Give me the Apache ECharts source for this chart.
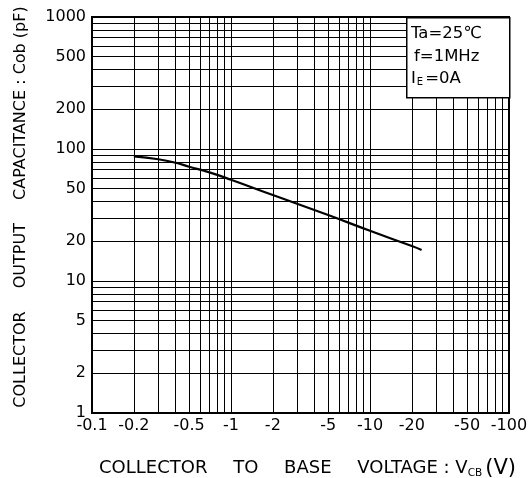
<!DOCTYPE html>
<html><head><meta charset="utf-8">
<script src="https://cdn.jsdelivr.net/npm/echarts@6/dist/echarts.min.js"></script>
<style>html,body{margin:0;padding:0;background:#fff}#c{width:532px;height:478px}</style>
</head><body><div id="c"></div>
<script>
// Collector-to-base voltage magnitude |VCB| (V) and output capacitance Cob (pF)
const vcb = [0.2, 0.3, 0.4, 0.5, 0.7, 1, 2, 5, 10, 20, 23.5];
const cob = [88, 83.6, 78.7, 73.4, 66.5, 58.5, 44.8, 31.6, 24.0, 18.4, 17.2];

const xTickLabels = [0.1, 0.2, 0.5, 1, 2, 5, 10, 20, 50, 100];
const yTickLabels = [1, 2, 5, 10, 20, 50, 100, 200, 500, 1000];
const xGridValues = [0.1, 0.2, 0.3, 0.4, 0.5, 0.6, 0.7, 0.8, 0.9, 1, 2, 3, 4, 5, 6, 7, 8, 9, 10, 20, 30, 40, 50, 60, 70, 80, 90, 100];
const yGridValues = [1, 2, 3, 4, 5, 6, 7, 8, 9, 10, 20, 30, 40, 50, 60, 70, 80, 90, 100, 200, 300, 400, 500, 600, 700, 800, 900, 1000];

const FONT = 'DejaVu Sans';
const chart = echarts.init(document.getElementById('c'), null, {renderer: 'canvas'});

chart.setOption({
  animation: false,
  backgroundColor: '#fff',
  grid: {left: 92, right: 23, top: 17, bottom: 65, outerBoundsMode: 'none', containLabel: false,
         show: true, borderColor: '#000', borderWidth: 2, backgroundColor: 'transparent'},
  xAxis: {
    type: 'log', logBase: 10, min: 0.1, max: 100,
    axisLine: {show: true, lineStyle: {color: '#000', width: 2}},
    axisTick: {show: false, customValues: xGridValues},
    splitLine: {show: true, lineStyle: {color: '#000', width: 1}},
    axisLabel: {customValues: xTickLabels, formatter: v => '-' + v, color: '#000', fontFamily: FONT, fontSize: 16, margin: 5},
    name: '{w|COLLECTOR}{g| }{w|TO}{g| }{w|BASE}{g| }{w|VOLTAGE}{w| : V}{s|CB}{p|(V)}',
    nameLocation: 'middle', nameGap: 45,
    nameTextStyle: {
      padding: [0, 0, 0, 14],
      rich: {
        w: {fontFamily: FONT, fontSize: 18, color: '#000'},
        g: {fontFamily: FONT, fontSize: 18, padding: [0, 10]},
        s: {fontFamily: FONT, fontSize: 10.5, color: '#000', verticalAlign: 'bottom', padding: [0, 3, 0, 0]},
        p: {fontFamily: FONT, fontSize: 21, color: '#000'}
      }
    }
  },
  yAxis: {
    type: 'log', logBase: 10, min: 1, max: 1000,
    axisLine: {show: true, lineStyle: {color: '#000', width: 2}},
    axisTick: {show: false, customValues: yGridValues},
    splitLine: {show: true, lineStyle: {color: '#000', width: 1}},
    axisLabel: {customValues: yTickLabels, formatter: v => String(v), color: '#000', fontFamily: FONT, fontSize: 16, margin: 6},
    name: '{w|COLLECTOR}{g| }{w|OUTPUT}{g| }{w|CAPACITANCE}{w| : Cob (pF)}',
    nameLocation: 'middle', nameRotate: 90, nameGap: 63,
    nameTextStyle: {
      padding: [0, 0, 0, 16],
      rich: {
        w: {fontFamily: FONT, fontSize: 16, color: '#000'},
        g: {fontFamily: FONT, fontSize: 16, padding: [0, 9]}
      }
    }
  },
  series: [{
    type: 'line',
    data: vcb.map((x, i) => [x, cob[i]]),
    smooth: true,
    symbol: 'none',
    lineStyle: {color: '#000', width: 2.2},
    z: 5
  }],
  graphic: [
    {type: 'rect', left: 406, top: 17, shape: {width: 103, height: 80}, style: {fill: '#fff', stroke: '#000', lineWidth: 1.5}, z: 100},
    {type: 'text', left: 411, top: 25, z: 101, style: {text: 'Ta=25℃', font: '16.5px "DejaVu Sans"', fill: '#000'}},
    {type: 'text', left: 414, top: 48, z: 101, style: {text: 'f=1MHz', font: '16.5px "DejaVu Sans"', fill: '#000'}},
    {type: 'text', left: 411, top: 70, z: 101, style: {
      text: '{a|I}{s|E}{a|=0A}',
      rich: {a: {fontFamily: FONT, fontSize: 16.5, fill: '#000'}, s: {fontFamily: FONT, fontSize: 10, fill: '#000', verticalAlign: 'bottom', padding: [0, 2, 0, 1]}}
    }}
  ]
});
</script>
</body></html>
